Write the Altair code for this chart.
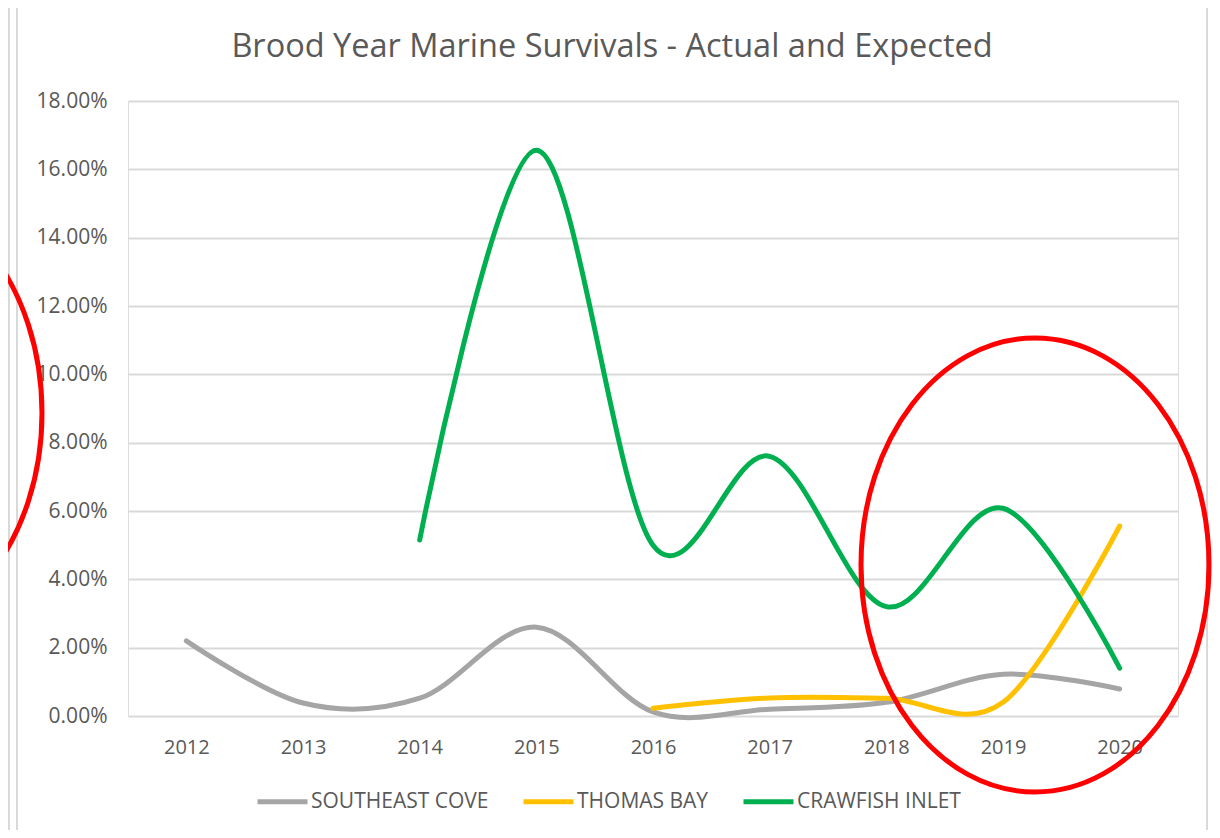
import altair as alt
import pandas as pd

years = ["2012", "2013", "2014", "2015", "2016", "2017", "2018", "2019", "2020"]
series_names = ["SOUTHEAST COVE", "THOMAS BAY", "CRAWFISH INLET"]
series_colors = ["#A5A5A5", "#FFC000", "#00B050"]

southeast_cove = [0.0220, 0.0038, 0.0052, 0.0260, 0.0012, 0.0020, 0.0040, 0.0122, 0.0079]
thomas_bay = [None, None, None, None, 0.0023, 0.0053, 0.0052, 0.0040, 0.0556]
crawfish_inlet = [None, None, 0.0515, 0.1656, 0.0500, 0.0760, 0.0320, 0.0608, 0.0140]

y_ticks = [0.0, 0.02, 0.04, 0.06, 0.08, 0.10, 0.12, 0.14, 0.16, 0.18]
title_text = "Brood Year Marine Survivals - Actual and Expected"

rows = []
for name, vals in zip(series_names, [southeast_cove, thomas_bay, crawfish_inlet]):
    for yr, v in zip(years, vals):
        if v is not None:
            rows.append({"year": yr, "site": name, "value": v})
df = pd.DataFrame(rows)
title_df = pd.DataFrame({"label": [title_text]})

W, H = 1050, 615
PAD_L, PAD_T, PAD_R, PAD_B = 120, 93, 34, 114
FONT = "Open Sans"
GREY_TXT = "#595959"

lines = alt.Chart(df).mark_line(
    interpolate="cardinal", strokeWidth=5, strokeCap="round"
).encode(
    x=alt.X("year:N", sort=years, scale=alt.Scale(domain=years, paddingOuter=0.5),
            axis=alt.Axis(title=None, labelAngle=0, ticks=False, domain=False, grid=False,
                          labelPadding=21, labelFontSize=20, labelColor=GREY_TXT, labelFont=FONT)),
    y=alt.Y("value:Q", scale=alt.Scale(domain=[0, 0.18], nice=False),
            axis=alt.Axis(title=None, values=y_ticks, format=".2%", ticks=False, domain=False,
                          gridColor="#D9D9D9", gridWidth=2, labelPadding=21, labelFontSize=21,
                          labelColor=GREY_TXT, labelFont=FONT)),
    color=alt.Color("site:N", sort=series_names,
                    scale=alt.Scale(domain=series_names, range=series_colors),
                    legend=alt.Legend(title=None, orient="none", direction="horizontal",
                                      legendX=127, legendY=673, symbolType="stroke",
                                      symbolSize=2500, symbolStrokeWidth=5, labelOffset=1,
                                      columnPadding=24, labelFontSize=21, labelLimit=400,
                                      labelColor=GREY_TXT, labelFont=FONT)),
    detail="site:N",
)

title_mark = alt.Chart(title_df).mark_text(
    font=FONT, fontSize=32.5, color=GREY_TXT, align="center", baseline="alphabetic"
).encode(text="label:N", x=alt.value(484), y=alt.value(-44))

ellipse_path = ("M0,-1C0.4233,-1,0.7665,-0.5523,0.7665,0C0.7665,0.5523,0.4233,1,0,1"
                "C-0.4233,1,-0.7665,0.5523,-0.7665,0C-0.7665,-0.5523,-0.4233,-1,0,-1Z")

ell_right = alt.Chart(title_df).mark_point(
    shape=ellipse_path, filled=False, stroke="#FF0000", strokeWidth=5, opacity=1
).encode(x=alt.value(907), y=alt.value(464), size=alt.value(454 * 454))

ell_left = alt.Chart(title_df).mark_point(
    shape=ellipse_path, filled=False, stroke="#FF0000", strokeWidth=5, opacity=1
).encode(x=alt.value(-260), y=alt.value(312), size=alt.value(454 * 454))

frame_left = alt.Chart(title_df).mark_rule(color="#D9D9D9", strokeWidth=2).encode(
    x=alt.value(-111), y=alt.value(-93), y2=alt.value(730))
frame_right = alt.Chart(title_df).mark_rule(color="#D9D9D9", strokeWidth=2).encode(
    x=alt.value(1079), y=alt.value(-93), y2=alt.value(730))
frame_far_left = alt.Chart(title_df).mark_rule(color="#D9D9D9", strokeWidth=2).encode(
    x=alt.value(-119), y=alt.value(-93), y2=alt.value(730))

chart = alt.layer(
    frame_far_left, frame_left, frame_right, lines, title_mark, ell_left, ell_right
).properties(
    width=W, height=H,
    autosize=alt.AutoSizeParams(type="none"),
    padding={"left": PAD_L, "top": PAD_T, "right": PAD_R, "bottom": PAD_B},
).configure_view(stroke=None).configure(background="white")

chart.save("out.html", embed_options={"renderer": "svg", "actions": False})
